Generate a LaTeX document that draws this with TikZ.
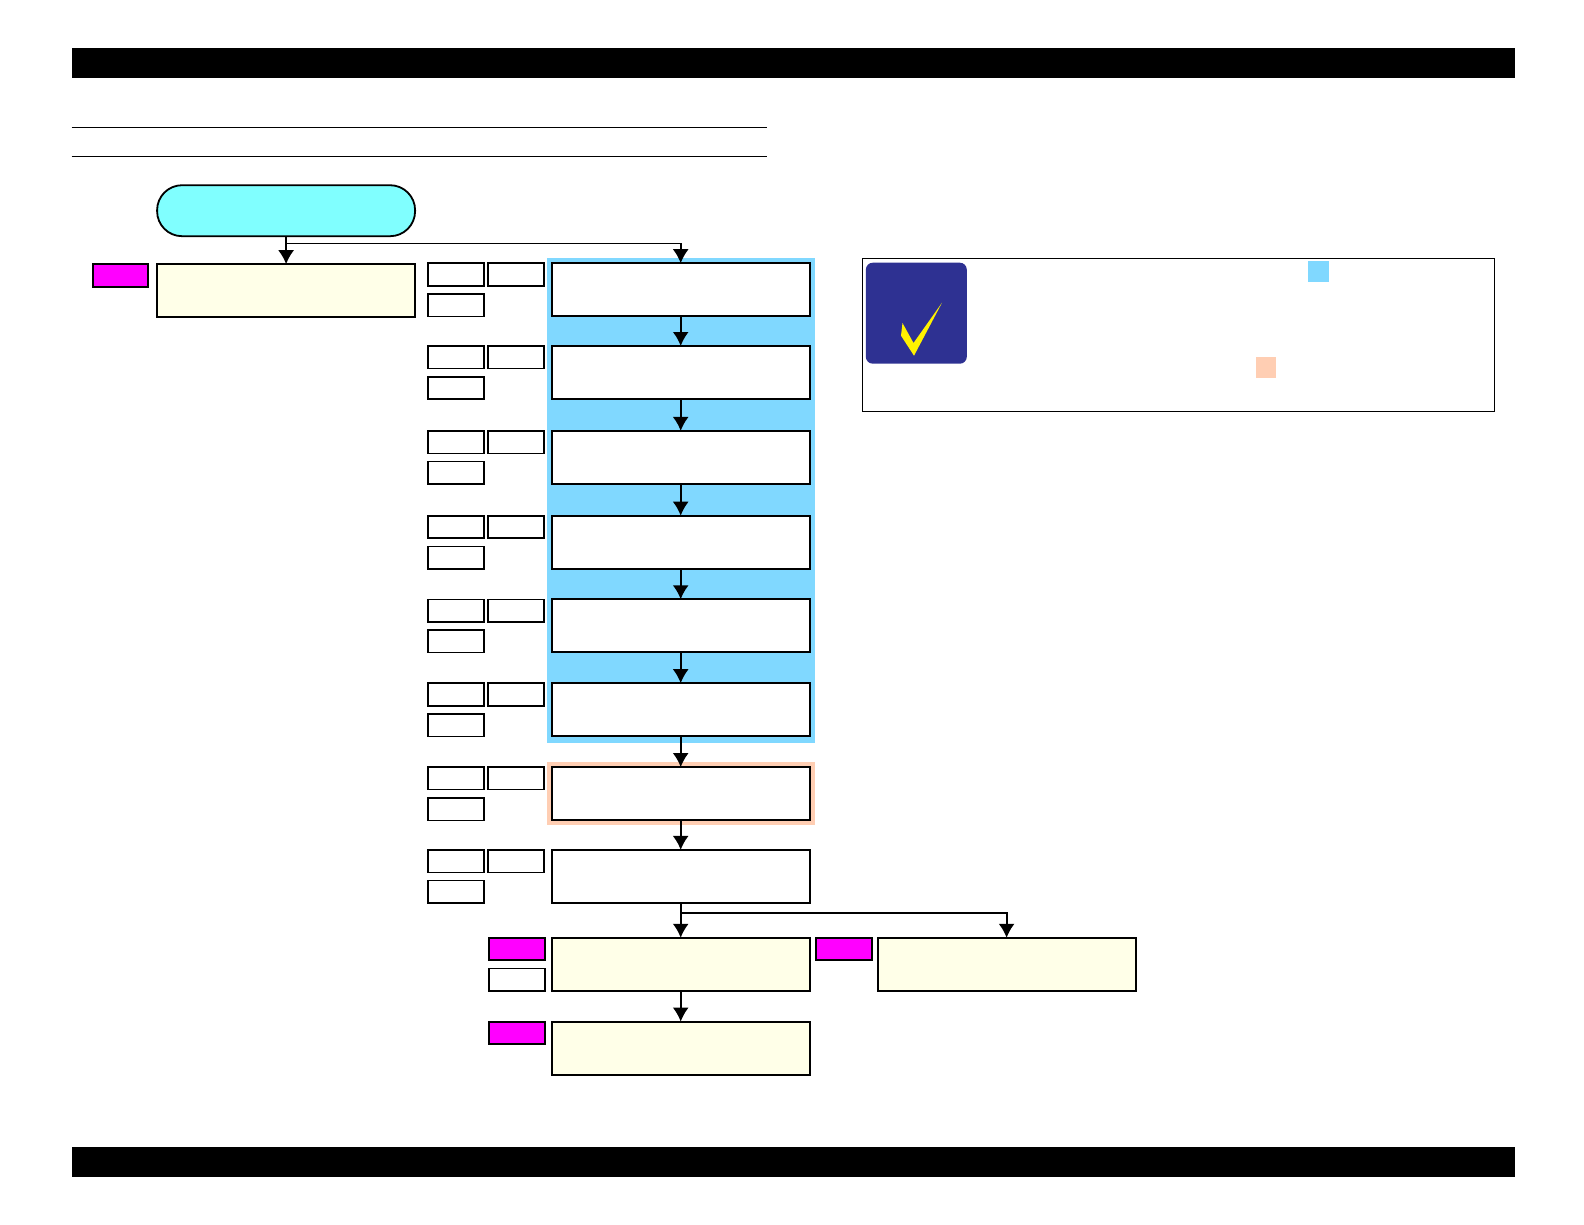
\documentclass[tikz,border=0pt]{standalone}
\usepackage{tikz}
\usetikzlibrary{arrows.meta,positioning,fit,backgrounds}
\usepackage{xcolor}
\definecolor{FlowCyan}{HTML}{80FFFF}
\definecolor{FlowCream}{HTML}{FFFFE8}
\definecolor{FlowMagenta}{HTML}{FF00FF}
\definecolor{FlowBlue}{HTML}{80D8FF}
\definecolor{FlowPeach}{HTML}{FFCEB3}
\definecolor{FlowNavy}{HTML}{2E3192}
\definecolor{FlowCheck}{HTML}{FFF200}
\tikzset{
  plainbox/.style={draw,line width=1.8pt,fill=white,outer sep=0pt,inner sep=0pt,minimum width=258pt,minimum height=53pt},
  creambox/.style={plainbox,fill=FlowCream},
  tagbox/.style={draw,line width=1.6pt,fill=white,outer sep=0pt,inner sep=0pt,minimum width=55.5pt,minimum height=22.5pt},
  magentabox/.style={tagbox,line width=1.9pt,fill=FlowMagenta},
  flowline/.style={line width=1.8pt},
  flowarrow/.style={flowline,-{Latex[length=14pt,width=16pt]}},
  bar/.style={fill=black,outer sep=0pt,inner sep=0pt,minimum width=1443.6pt,minimum height=30pt},
  swatch/.style={outer sep=0pt,inner sep=0pt,minimum width=20.5pt,minimum height=21pt}
}
\begin{document}
\begin{tikzpicture}[x=1pt,y=-1pt]
    \useasboundingbox (0,0) rectangle (1584,1224);
    \node[bar] (topbar) at (793.5,62.8) {};
    \node[bar] (bottombar) at (793.5,1161.7) {};
    \draw[line width=1.1pt] (71.7,127.3)--(766.8,127.3);
    \draw[line width=1.1pt] (71.7,156.6)--(766.8,156.6);
    % left branch
    \node[creambox,anchor=north] (cleanA) at (286.1,264.2) {};
    \node[plainbox,fill=FlowCyan,rounded corners=25pt,minimum height=51pt,above=28pt of cleanA] (start) {};
    \node[magentabox,left=9pt of cleanA.north west,anchor=north east] (markA) {};
    % main column
    \node[plainbox,anchor=north] (stepA) at (680.7,263.2) {};
    \node[plainbox,below=29.8pt of stepA] (stepB) {};
    \node[plainbox,below=31.9pt of stepB] (stepC) {};
    \node[plainbox,below=31.8pt of stepC] (stepD) {};
    \node[plainbox,below=30.6pt of stepD] (stepE) {};
    \node[plainbox,below=30.9pt of stepE] (stepF) {};
    \node[plainbox,below=30.9pt of stepF] (stepG) {};
    \node[plainbox,below=29.8pt of stepG] (stepH) {};
    \node[creambox,below=34.9pt of stepH] (stepI) {};
    \node[creambox,below=30.8pt of stepI] (stepJ) {};
    \node[creambox,right=67.9pt of stepI] (stepK) {};
    \begin{scope}[on background layer]
      \node[fit=(stepA)(stepF),fill=FlowBlue,inner xsep=5pt,inner ysep=6pt,yshift=-0.8pt] (blueband) {};
      \node[fit=(stepG),fill=FlowPeach,inner sep=5pt] (peachband) {};
    \end{scope}
    % tags beside the steps
    \foreach \m in {stepA,stepB,stepC,stepD,stepE,stepF,stepG,stepH}{
      \node[tagbox,left=8pt of \m.north west,anchor=north east] (\m tagB) {};
      \node[tagbox,left=4.5pt of \m tagB] (\m tagA) {};
      \node[tagbox,below=8.2pt of \m tagA] (\m tagC) {};
    }
    \node[magentabox,left=7pt of stepI.north west,anchor=north east] (markI) {};
    \node[tagbox,below=8pt of markI] (tagI) {};
    \node[magentabox,left=7pt of stepJ.north west,anchor=north east] (markJ) {};
    \node[magentabox,left=6pt of stepK.north west,anchor=north east] (markK) {};
    % connectors
    \coordinate (forkTop) at (286.1,243.5);
    \coordinate (forkLow) at (680.7,913.2);
    \draw[flowarrow] (start)--(cleanA);
    \draw[flowarrow] (forkTop)-|(stepA.north);
    \foreach \x/\y in {stepA/stepB,stepB/stepC,stepC/stepD,stepD/stepE,stepE/stepF,stepF/stepG,stepG/stepH,stepH/stepI,stepI/stepJ}{\draw[flowarrow] (\x)--(\y);}
    \draw[flowarrow] (forkLow)-|(stepK.north);
    % note
    \node[draw,line width=1.1pt,outer sep=0pt,inner sep=0pt,minimum width=632pt,minimum height=153pt,anchor=north west] (notebox) at (862.2,258.1) {};
    \node[fill=FlowNavy,rounded corners=7pt,outer sep=0pt,inner sep=0pt,minimum width=101pt,minimum height=101pt,anchor=north west] (noteicon) at (865.8,262.7) {};
    \fill[FlowCheck] (942,302.7)--(914,355.7)--(901,335.7)--(902.5,323)--(913.5,343)--cycle;
    \node[swatch,fill=FlowBlue,anchor=north west] (blueswatch) at (1308,261) {};
    \node[swatch,fill=FlowPeach,anchor=north west] (peachswatch) at (1255.7,357) {};
  \end{tikzpicture}
\end{document}
